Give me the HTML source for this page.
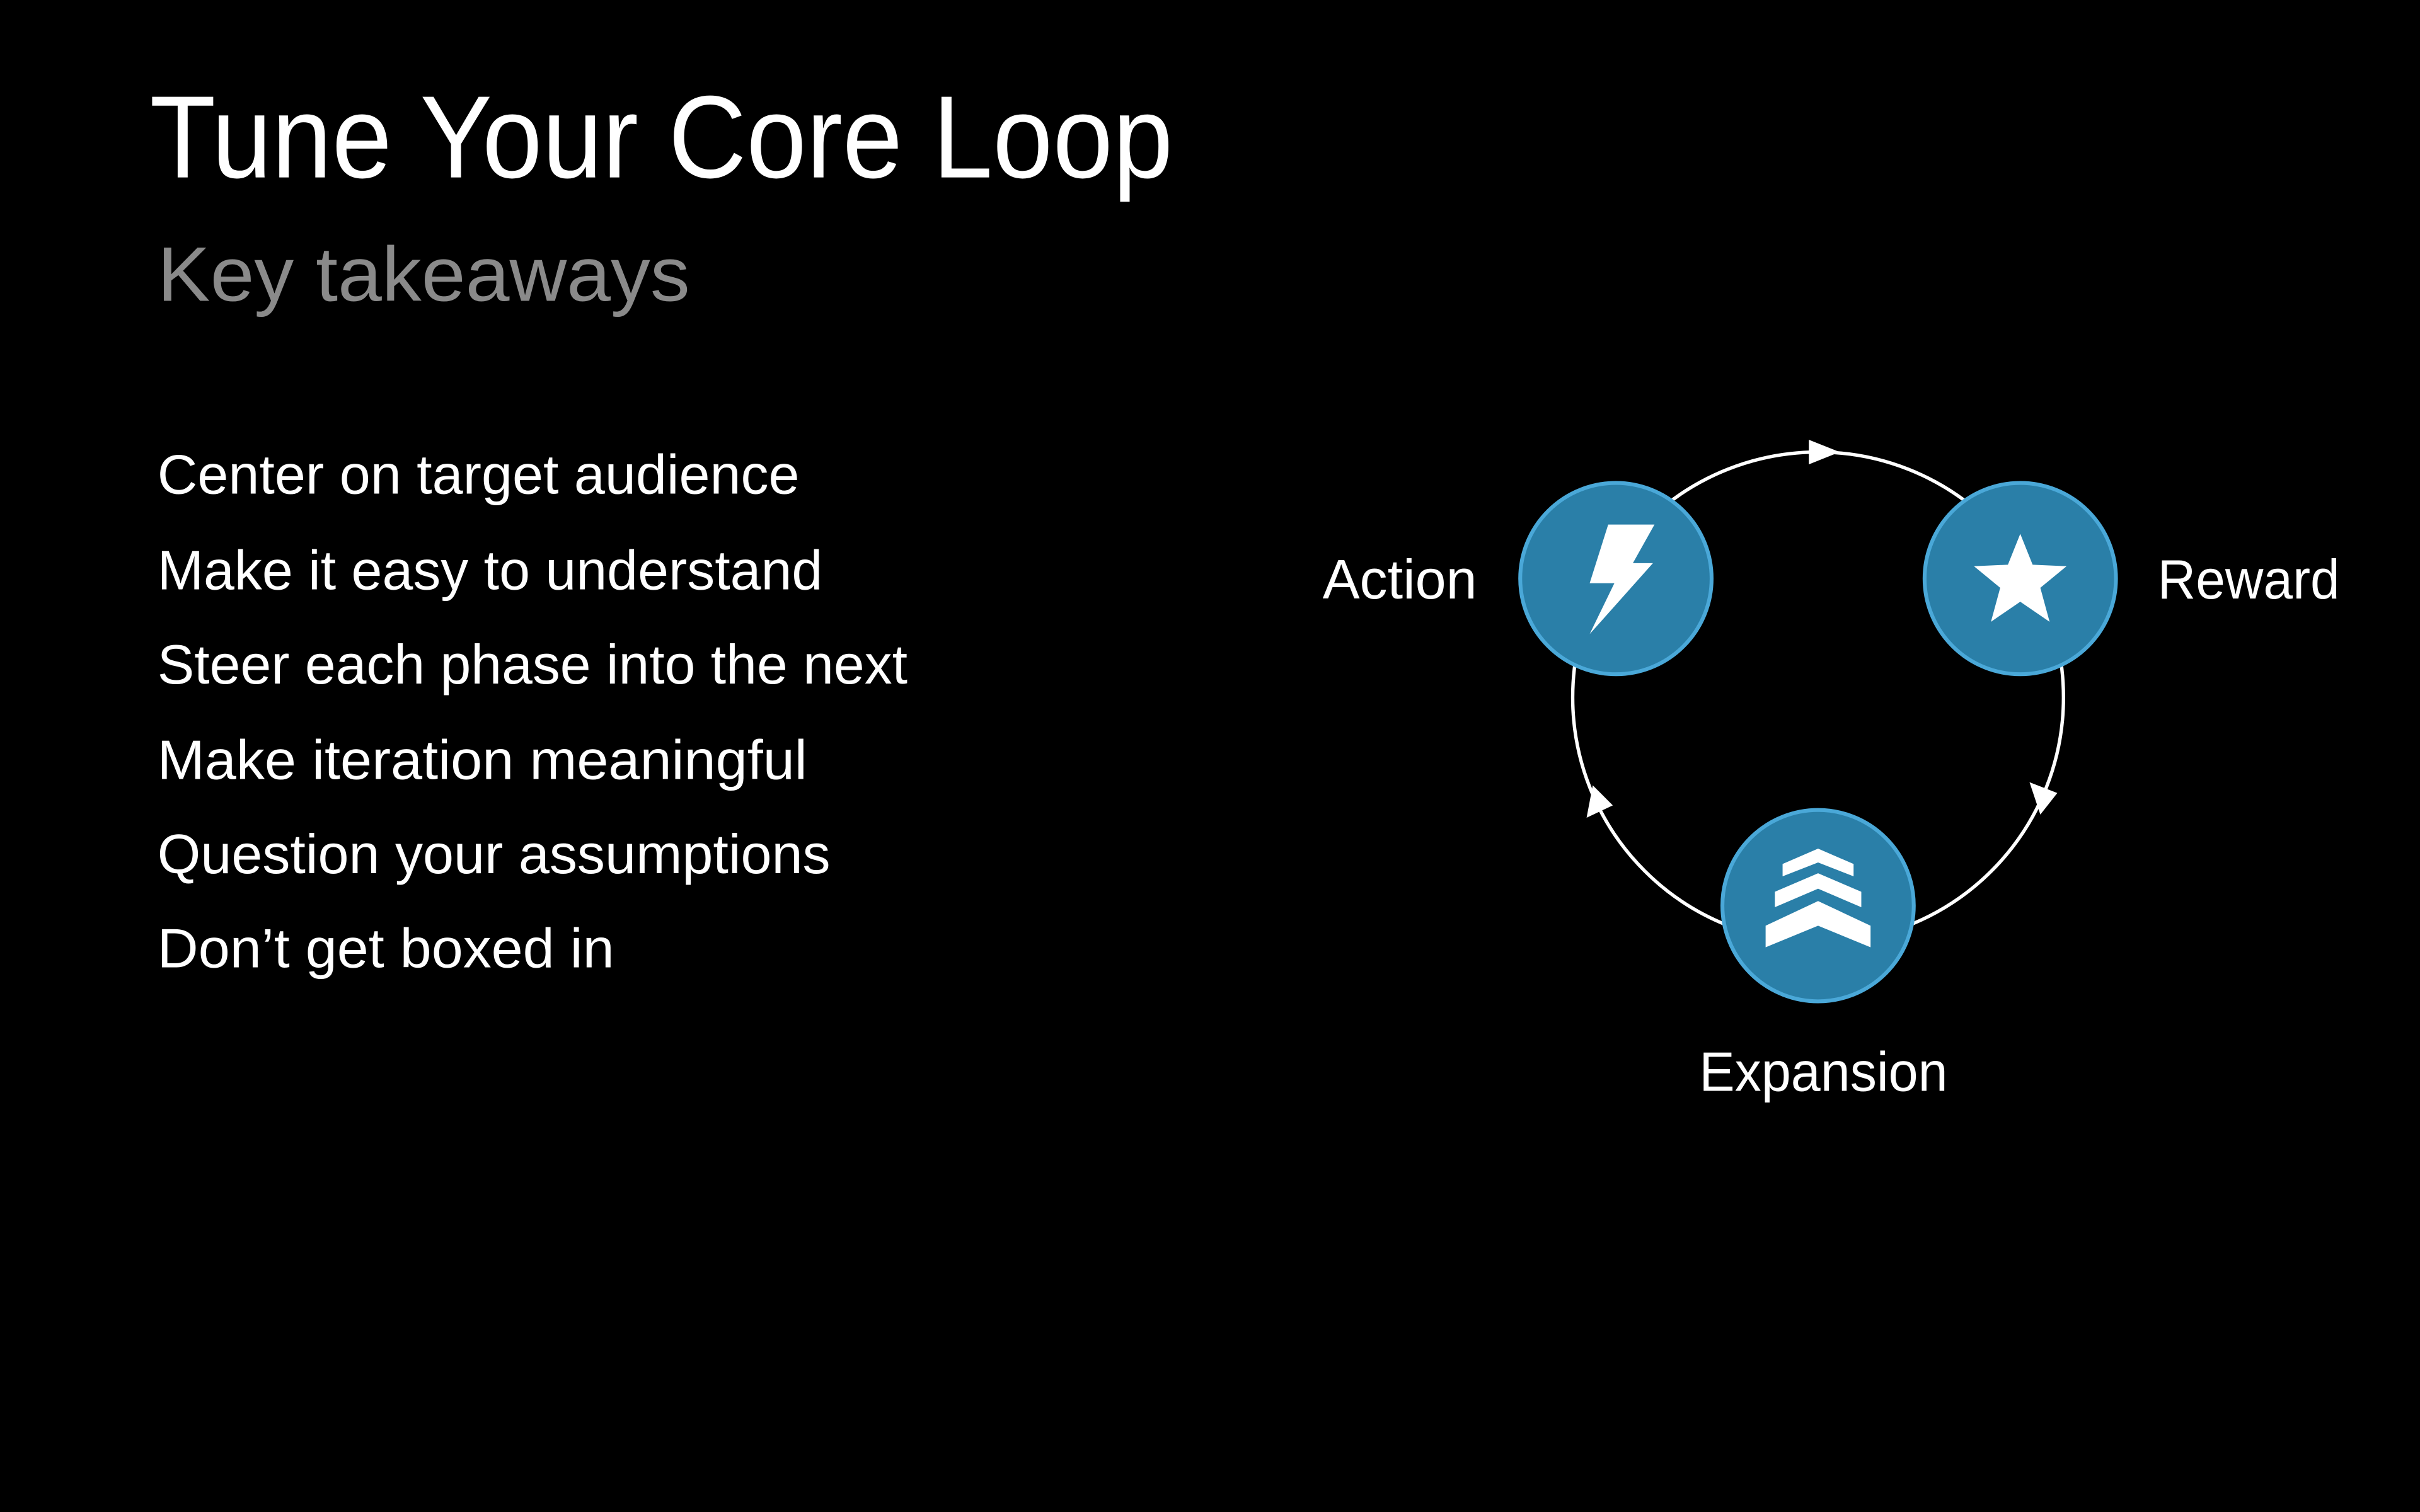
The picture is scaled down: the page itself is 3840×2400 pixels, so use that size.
<!DOCTYPE html>
<html><head><meta charset="utf-8"><style>
html,body{margin:0;padding:0;background:#000;}
svg{display:block}
text{font-family:"Liberation Sans",sans-serif;}
</style></head><body>
<svg width="3840" height="2400" viewBox="0 0 1568 980" xmlns="http://www.w3.org/2000/svg">
<rect width="1568" height="980" fill="#000"/>
<text x="97" y="115" font-size="76" fill="#fff" textLength="663" lengthAdjust="spacingAndGlyphs">Tune Your Core Loop</text>
<text x="102" y="195" font-size="50" fill="#8a8a8a" textLength="345" lengthAdjust="spacingAndGlyphs">Key takeaways</text>
<g font-size="36" fill="#fff">
<text x="102" y="320" textLength="416" lengthAdjust="spacingAndGlyphs">Center on target audience</text>
<text x="102" y="382" textLength="431" lengthAdjust="spacingAndGlyphs">Make it easy to understand</text>
<text x="102" y="443" textLength="486" lengthAdjust="spacingAndGlyphs">Steer each phase into the next</text>
<text x="102" y="505" textLength="421" lengthAdjust="spacingAndGlyphs">Make iteration meaningful</text>
<text x="102" y="566" textLength="436" lengthAdjust="spacingAndGlyphs">Question your assumptions</text>
<text x="102" y="627" textLength="296" lengthAdjust="spacingAndGlyphs">Don’t get boxed in</text>
</g>
<circle cx="1178" cy="452" r="159" fill="none" stroke="#fff" stroke-width="2.2"/>
<polygon points="1192,293 1172,285 1172,301" fill="#fff"/>
<polygon points="1322,528 1315,507 1333,514" fill="#fff"/>
<polygon points="1032,509 1028,530 1045,522" fill="#fff"/>
<g fill="#2a7fa8" stroke="#4aa8d8" stroke-width="2.5">
<circle cx="1047" cy="375" r="62"/>
<circle cx="1309" cy="375" r="62"/>
<circle cx="1178" cy="587" r="62"/>
</g>
<polygon points="1042,340 1072,340 1058,365 1071,365 1030,411 1046,378 1030,378" fill="#fff"/>
<polygon fill="#fff" points="1309,346 1317,366 1339,367 1322,381 1328,403 1309,390 1290,403 1296,381 1279,367 1301,366"/>
<g fill="#fff">
<polygon points="1155,560 1178,550 1201,560 1201,568 1178,559 1155,568"/>
<polygon points="1150,578 1178,566 1206,578 1206,588 1178,576 1150,588"/>
<polygon points="1144,600 1178,584 1212,600 1212,614 1178,600 1144,614"/>
</g>
<g font-size="36" fill="#fff">
<text x="857" y="388" textLength="100" lengthAdjust="spacingAndGlyphs">Action</text>
<text x="1398" y="388" textLength="118" lengthAdjust="spacingAndGlyphs">Reward</text>
<text x="1101" y="707" textLength="161" lengthAdjust="spacingAndGlyphs">Expansion</text>
</g>
</svg>
</body></html>
